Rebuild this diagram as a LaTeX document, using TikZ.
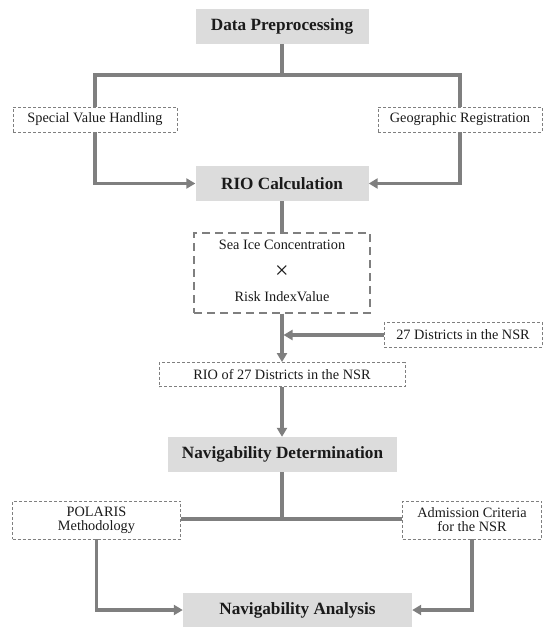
\documentclass[tikz,border=0pt]{standalone}
\usepackage{fontspec}
\setmainfont{Liberation Serif}
\usetikzlibrary{arrows.meta}
\definecolor{boxgray}{HTML}{DCDCDC}
\definecolor{linegray}{HTML}{7F7F7F}
\definecolor{txt}{HTML}{1A1A1A}
\begin{document}
\begin{tikzpicture}[x=1pt,y=-1pt,
  mainbox/.style={fill=boxgray,draw=none,inner sep=0pt,text=txt,font=\fontsize{17.2}{20}\selectfont\bfseries},
  subbox/.style={draw=linegray,line width=0.9pt,dash pattern=on 3pt off 2pt,inner sep=0pt,text=txt,font=\fontsize{14.3}{16}\selectfont,align=center},
  conn/.style={draw=linegray,line width=3.2pt},
  arr/.style={conn,-{Triangle[width=10pt,length=9pt]}}
]
\useasboundingbox (0,0) rectangle (550,636);
\node[mainbox,minimum width=173pt,minimum height=35pt] (dp) at (282,26.5) {Data Preprocessing};
\node[subbox,minimum width=164pt,minimum height=25pt] (svh) at (95,119.5) {Special Value Handling};
\node[subbox,minimum width=164pt,minimum height=25pt] (gr) at (460,119.5) {Geographic Registration};
\node[mainbox,minimum width=173pt,minimum height=35pt] (rio) at (282,183.5) {RIO Calculation};
\node[draw=linegray,line width=1.2pt,dash pattern=on 8pt off 5pt,inner sep=0pt,minimum width=176pt,minimum height=80pt] (sea) at (282,273) {};
\node[text=txt,font=\fontsize{14.3}{16}\selectfont] (sea1) at (282,244.5) {Sea Ice Concentration};
\node[text=txt,font=\fontsize{24}{26}\selectfont] (sea2) at (282,272.5) {×};
\node[text=txt,font=\fontsize{14.3}{16}\selectfont] (sea3) at (282,297) {Risk IndexValue};
\node[subbox,minimum width=158pt,minimum height=24.5pt] (d27) at (463,335) {27 Districts in the NSR};
\node[subbox,minimum width=246pt,minimum height=24pt] (rio27) at (282,374.5) {RIO of 27 Districts in the NSR};
\node[mainbox,minimum width=229pt,minimum height=35pt] (nd) at (282.5,454.5) {Navigability Determination};
\node[subbox,minimum width=168pt,minimum height=38pt] (pol) at (96.5,520) {POLARIS\\[-2pt]Methodology};
\node[subbox,minimum width=139pt,minimum height=38pt] (adm) at (472,520) {Admission Criteria\\[-2pt]for the NSR};
\node[mainbox,minimum width=229pt,minimum height=34pt] (na) at (297.5,610) {Navigability Analysis};
\coordinate (j1) at (282,75);
\draw[conn] (dp.south) -- (j1);
\draw[conn] (svh.north) |- (j1) -| (gr.north);
\draw[arr] (svh.south) |- (rio.west);
\draw[arr] (gr.south) |- (rio.east);
\draw[conn] (rio.south) -- (sea.north);
\draw[arr] (sea.south) -- (rio27.north);
\coordinate (j2) at (283.5,335);
\draw[arr] (d27.west) -- (j2);
\draw[arr] (rio27.south) -- (rio27.south |- nd.north);
\coordinate (j3) at (282,519);
\draw[conn] (nd.south -| j3) -- (j3);
\draw[conn] (pol.east |- j3) -- (adm.west |- j3);
\draw[arr] (pol.south) |- (na.west);
\draw[arr] (adm.south) |- (na.east);
\end{tikzpicture}
\end{document}
